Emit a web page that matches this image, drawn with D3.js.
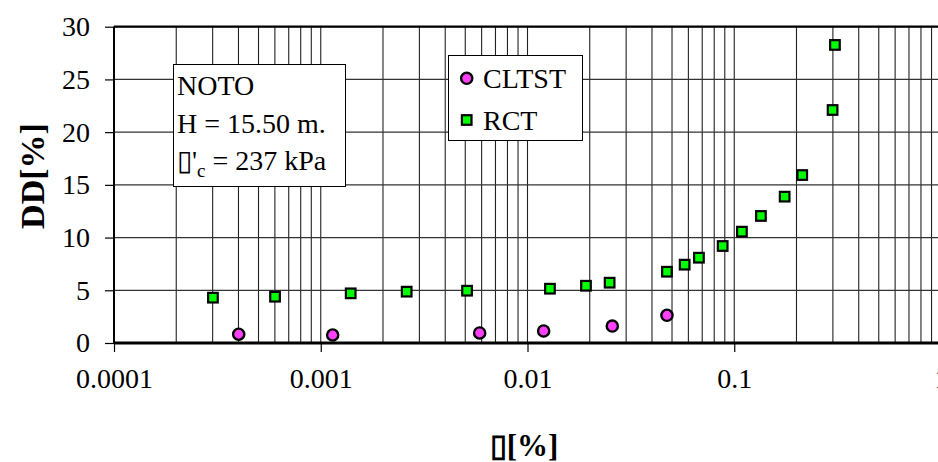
<!DOCTYPE html>
<html>
<head>
<meta charset="utf-8">
<script src="https://cdn.jsdelivr.net/npm/d3@7"></script>
<style>
  body { margin: 0; background: #fff; }
  svg { display: block; font-family: "Liberation Serif", "Times New Roman", serif; }
</style>
</head>
<body>
<div id="chart"></div>
<script>

// strain [%] vs damping [%]
var cltstStrain  = [0.000401, 0.001142, 0.00587, 0.01197, 0.02571, 0.04726]
  , cltstDamping = [0.83, 0.76, 0.95, 1.14, 1.61, 2.63]
  , rctStrain    = [0.000301, 0.000601, 0.001396, 0.002604, 0.00510, 0.01284, 0.01918, 0.02496,
                    0.04726, 0.05756, 0.06748, 0.0879, 0.1089, 0.1346, 0.1753, 0.2132, 0.2990, 0.3069]
  , rctDamping   = [4.30, 4.39, 4.71, 4.87, 4.96, 5.15, 5.43, 5.72,
                    6.76, 7.43, 8.09, 9.20, 10.56, 12.05, 13.88, 15.93, 22.10, 28.27]
  , xTicks       = [0.0001, 0.001, 0.01, 0.1, 1]
  , yTicks       = [0, 5, 10, 15, 20, 25, 30]
  , noteLines    = ["NOTO", "H = 15.50 m.", "\u25AF'c = 237 kPa"]
  , legendNames  = ["CLTST", "RCT"];

var width = 938
  , height = 462
  , plotLeft = 114
  , plotRight = 941
  , plotTop = 26.7
  , plotBottom = 343
  , fontSize = 28
  , serif = '"Liberation Serif", "Times New Roman", serif';

var svg = d3.select('#chart').append('svg')
    .attr('width', width)
    .attr('height', height);

var x = d3.scaleLog().domain([0.0001, 1]).range([plotLeft, plotRight])
  , y = d3.scaleLinear().domain([0, 30]).range([plotBottom, plotTop]);

// minor + major vertical grid
var gridX = [];
for (var e = -4; e < 0; e++) {
  for (var m = 1; m <= 9; m++) gridX.push(m * Math.pow(10, e));
}

var grid = svg.append('g').attr('class', 'grid');

grid.selectAll('line.v')
  .data(gridX)
  .enter().append('line')
    .attr('class', 'v')
    .attr('x1', function (d) { return x(d); })
    .attr('x2', function (d) { return x(d); })
    .attr('y1', plotTop)
    .attr('y2', plotBottom)
    .attr('stroke', '#222')
    .attr('stroke-width', 1.1);

grid.selectAll('line.h')
  .data(yTicks)
  .enter().append('line')
    .attr('class', 'h')
    .attr('x1', plotLeft)
    .attr('x2', plotRight)
    .attr('y1', function (d) { return y(d); })
    .attr('y2', function (d) { return y(d); })
    .attr('stroke', '#333')
    .attr('stroke-width', 1.2);

// axes
var xAxis = d3.axisBottom(x)
    .tickValues(xTicks)
    .tickSize(9)
    .tickPadding(16)
    .tickFormat(function (d) { return String(+d.toPrecision(1)); });

var gx = svg.append('g')
    .attr('transform', 'translate(0,' + plotBottom + ')')
    .call(xAxis);

gx.select('.domain').remove();
gx.selectAll('line').attr('stroke', '#000').attr('stroke-width', 1.2);
gx.selectAll('text')
    .attr('fill', '#000')
    .style('font-size', fontSize + 'px')
    .style('font-family', serif);

var yAxis = d3.axisLeft(y)
    .tickValues(yTicks)
    .tickSize(9)
    .tickPadding(15);

var gy = svg.append('g')
    .attr('transform', 'translate(' + plotLeft + ',0)')
    .call(yAxis);

gy.select('.domain').remove();
gy.selectAll('line').attr('stroke', '#000').attr('stroke-width', 1.2);
gy.selectAll('text')
    .attr('fill', '#000')
    .style('font-size', fontSize + 'px')
    .style('font-family', serif);

// frame
svg.append('line')
    .attr('x1', plotLeft).attr('x2', plotRight)
    .attr('y1', plotTop).attr('y2', plotTop)
    .attr('stroke', '#000').attr('stroke-width', 2.2);
svg.append('line')
    .attr('x1', plotLeft).attr('x2', plotLeft)
    .attr('y1', plotTop).attr('y2', plotBottom)
    .attr('stroke', '#000').attr('stroke-width', 2);
svg.append('line')
    .attr('x1', plotLeft).attr('x2', plotRight)
    .attr('y1', plotBottom).attr('y2', plotBottom)
    .attr('stroke', '#000').attr('stroke-width', 2.8);

// annotation box
var note = svg.append('g').attr('class', 'note');
note.append('rect')
    .attr('x', 173.5).attr('y', 64.5)
    .attr('width', 172).attr('height', 122)
    .attr('fill', '#fff')
    .attr('stroke', '#000').attr('stroke-width', 1);

note.selectAll('text')
  .data(noteLines)
  .enter().append('text')
    .attr('x', 177)
    .attr('y', function (d, i) { return 95 + i * 37.5; })
    .style('font-size', fontSize + 'px')
    .each(function (d) {
      var t = d3.select(this);
      if (d.indexOf("'c") > -1) {
        t.append('tspan').text("\u25AF'");
        t.append('tspan').attr('dy', 7).style('font-size', '19px').text('c');
        t.append('tspan').attr('dy', -7).text(' = 237 kPa');
      } else {
        t.text(d);
      }
    });

// legend
var legend = svg.append('g').attr('class', 'legend');
legend.append('rect')
    .attr('x', 448.5).attr('y', 55.5)
    .attr('width', 134).attr('height', 85)
    .attr('fill', '#fff')
    .attr('stroke', '#000').attr('stroke-width', 1);

legend.append('circle')
    .attr('cx', 466.7).attr('cy', 78.3).attr('r', 5.6)
    .attr('fill', '#ff40ff').attr('stroke', '#000').attr('stroke-width', 2.4);
legend.append('rect')
    .attr('x', 466.7 - 4.8).attr('y', 120 - 4.8)
    .attr('width', 9.6).attr('height', 9.6)
    .attr('fill', '#00ff00').attr('stroke', '#000').attr('stroke-width', 2.2);

legend.selectAll('text')
  .data(legendNames)
  .enter().append('text')
    .attr('x', 483)
    .attr('y', function (d, i) { return 87.5 + i * 42; })
    .style('font-size', fontSize + 'px')
    .text(function (d) { return d; });

// series
var rct = rctStrain.map(function (s, i) { return { x: s, y: rctDamping[i] }; })
  , cltst = cltstStrain.map(function (s, i) { return { x: s, y: cltstDamping[i] }; });

svg.append('g').selectAll('rect')
  .data(rct)
  .enter().append('rect')
    .attr('x', function (d) { return x(d.x) - 4.8; })
    .attr('y', function (d) { return y(d.y) - 4.8; })
    .attr('width', 9.6)
    .attr('height', 9.6)
    .attr('fill', '#00ff00')
    .attr('stroke', '#000')
    .attr('stroke-width', 2.2);

svg.append('g').selectAll('circle')
  .data(cltst)
  .enter().append('circle')
    .attr('cx', function (d) { return x(d.x); })
    .attr('cy', function (d) { return y(d.y); })
    .attr('r', 5.6)
    .attr('fill', '#ff40ff')
    .attr('stroke', '#000')
    .attr('stroke-width', 2.4);

// axis titles
svg.append('text')
    .attr('x', 524)
    .attr('y', 456)
    .attr('text-anchor', 'middle')
    .style('font-size', '31px')
    .style('font-weight', 'bold')
    .text('\u25AF[%]');

svg.append('text')
    .attr('transform', 'translate(44,176) rotate(-90)')
    .attr('text-anchor', 'middle')
    .style('font-size', '34px')
    .style('font-weight', 'bold')
    .text('DD[%]');

</script>
</body>
</html>
